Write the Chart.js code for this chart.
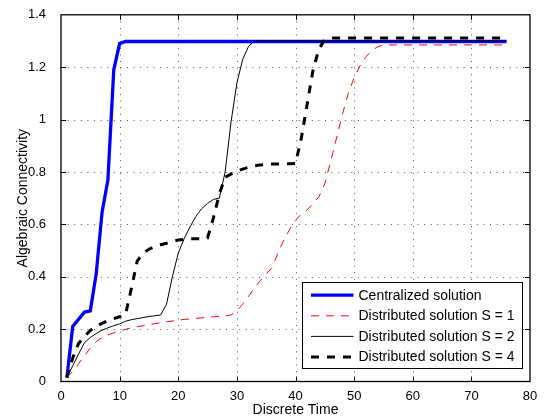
<!DOCTYPE html>
<html><head><meta charset="utf-8">
<script src="https://cdn.jsdelivr.net/npm/chart.js@4"></script>
<style>html,body{margin:0;padding:0;background:#fff}canvas{display:block}</style>
</head><body>
<canvas id="c" width="546" height="419"></canvas>
<script>
const time = [1,2,3,4,5,6,7,8,9,10,11,12,13,14,15,16,17,18,19,20,21,22,23,24,25,26,27,28,29,30,31,32,33,34,35,36,37,38,39,40,41,42,43,44,45,46,47,48,49,50,51,52,53,54,55,56,57,58,59,60,61,62,63,64,65,66,67,68,69,70,71,72,73,74,75,76];
const centralized = [0.015,0.21,0.238,0.265,0.27,0.41,0.645,0.77,1.19,1.29,
  1.298,1.298,1.298,1.298,1.298,1.298,1.298,1.298,1.298,1.298,
  1.298,1.298,1.298,1.298,1.298,1.298,1.298,1.298,1.298,1.298,
  1.298,1.298,1.298,1.298,1.298,1.298,1.298,1.298,1.298,1.298,
  1.298,1.298,1.298,1.298,1.298,1.298,1.298,1.298,1.298,1.298,
  1.298,1.298,1.298,1.298,1.298,1.298,1.298,1.298,1.298,1.298,
  1.298,1.298,1.298,1.298,1.298,1.298,1.298,1.298,1.298,1.298,
  1.298,1.298,1.298,1.298,1.298,1.298];
const distS1 = [0.015,0.04,0.068,0.098,0.128,0.152,0.168,0.178,0.186,0.193,
  0.199,0.205,0.209,0.213,0.217,0.221,0.224,0.228,0.231,0.234,
  0.237,0.239,0.241,0.243,0.245,0.247,0.249,0.251,0.254,0.27,
  0.295,0.325,0.358,0.385,0.41,0.435,0.49,0.54,0.58,0.615,
  0.64,0.655,0.68,0.705,0.755,0.84,0.93,1.02,1.10,1.16,
  1.205,1.24,1.262,1.278,1.285,1.285,1.285,1.285,1.285,1.285,
  1.285,1.285,1.285,1.285,1.285,1.285,1.285,1.285,1.285,1.285,
  1.285,1.285,1.285,1.285,1.285,1.285];
const distS2 = [0.015,0.06,0.105,0.148,0.168,0.183,0.196,0.205,0.213,0.22,
  0.23,0.236,0.24,0.244,0.248,0.251,0.254,0.295,0.40,0.49,
  0.545,0.59,0.63,0.66,0.68,0.695,0.70,0.80,0.99,1.14,
  1.23,1.28,1.30,1.30,1.30,1.30,1.30,1.30,1.30,1.30,
  1.30,1.30,1.30,1.30,1.30,1.30,1.30,1.30,1.30,1.30,
  1.30,1.30,1.30,1.30,1.30,1.30,1.30,1.30,1.30,1.30,
  1.30,1.30,1.30,1.30,1.30,1.30,1.30,1.30,1.30,1.30,
  1.30,1.30,1.30,1.30,1.30,1.30];
const distS4 = [0.015,0.09,0.145,0.172,0.195,0.21,0.222,0.232,0.24,0.247,
  0.255,0.355,0.46,0.49,0.505,0.515,0.522,0.528,0.535,0.54,
  0.543,0.545,0.545,0.545,0.548,0.625,0.715,0.78,0.792,0.803,
  0.811,0.818,0.823,0.827,0.829,0.83,0.83,0.831,0.831,0.832,
  0.93,1.06,1.19,1.27,1.305,1.311,1.311,1.311,1.311,1.311,
  1.311,1.311,1.311,1.311,1.311,1.311,1.311,1.311,1.311,1.311,
  1.311,1.311,1.311,1.311,1.311,1.311,1.311,1.311,1.311,1.311,
  1.311,1.311,1.311,1.311,1.311,1.311];
const xTicks = [0,10,20,30,40,50,60,70,80];
const xTickLabels = ['0','10','20','30','40','50','60','70','80'];
const yTicks = [0,0.2,0.4,0.6,0.8,1,1.2,1.4];
const yTickLabels = ['0','0.2','0.4','0.6','0.8','1','1.2','1.4'];
const seriesNames = ['Centralized solution','Distributed solution S = 1','Distributed solution S = 2','Distributed solution S = 4'];
const xTitle = 'Discrete Time';
const yTitle = 'Algebraic Connectivity';

const FONT = '"Liberation Sans", Arial, Helvetica, sans-serif';
const toPts = arr => arr.map((v,i)=>({x:time[i], y:v}));

const styles = [
  {color:'#0000ff', width:3.3, dash:[]},
  {color:'#ff0000', width:1, dash:[8,7]},
  {color:'#000000', width:1, dash:[]},
  {color:'#000000', width:3, dash:[8,8]}
];
const seriesData = [centralized, distS1, distS2, distS4];

const frame = {
  id:'frame',
  beforeDatasetsDraw(chart){
    const {ctx, chartArea:a, scales:{x,y}} = chart;
    ctx.save();
    ctx.strokeStyle='#555'; ctx.lineWidth=1; ctx.setLineDash([1,5.6]);
    xTicks.forEach(v=>{ if(v<=x.min||v>=x.max) return;
      const px=Math.round(x.getPixelForValue(v))+0.5;
      ctx.beginPath(); ctx.moveTo(px,a.top); ctx.lineTo(px,a.bottom); ctx.stroke(); });
    yTicks.forEach(v=>{ if(v<=y.min||v>=y.max) return;
      const py=Math.round(y.getPixelForValue(v))+0.5;
      ctx.beginPath(); ctx.moveTo(a.left,py); ctx.lineTo(a.right,py); ctx.stroke(); });
    ctx.restore();
  },
  afterDatasetsDraw(chart){
    const {ctx, chartArea:a, scales:{x,y}} = chart;
    ctx.save();
    ctx.strokeStyle='#000'; ctx.lineWidth=1.3; ctx.setLineDash([]);
    ctx.strokeRect(a.left, a.top, a.right-a.left, a.bottom-a.top);
    ctx.lineWidth=1;
    const tl=5;
    xTicks.forEach(v=>{ if(v<=x.min||v>=x.max) return;
      const px=Math.round(x.getPixelForValue(v))+0.5;
      ctx.beginPath(); ctx.moveTo(px,a.bottom); ctx.lineTo(px,a.bottom-tl);
      ctx.moveTo(px,a.top); ctx.lineTo(px,a.top+tl); ctx.stroke(); });
    yTicks.forEach(v=>{ if(v<=y.min||v>=y.max) return;
      const py=Math.round(y.getPixelForValue(v))+0.5;
      ctx.beginPath(); ctx.moveTo(a.left,py); ctx.lineTo(a.left+tl,py);
      ctx.moveTo(a.right,py); ctx.lineTo(a.right-tl,py); ctx.stroke(); });
    // legend
    const w=220, h=86;
    const lx=Math.round(a.right-8.5-w)+0.5, ly=Math.round(a.bottom-13.5-h)+0.5;
    ctx.fillStyle='#fff'; ctx.fillRect(lx,ly,w,h);
    ctx.strokeStyle='#000'; ctx.lineWidth=1; ctx.strokeRect(lx,ly,w,h);
    ctx.font='14px '+FONT; ctx.textBaseline='middle'; ctx.textAlign='left';
    seriesNames.forEach((name,i)=>{
      const ry=ly+12.7+i*20.6;
      const s=styles[i];
      ctx.strokeStyle=s.color; ctx.lineWidth=s.width; ctx.setLineDash(s.dash);
      ctx.beginPath(); ctx.moveTo(lx+8.5,ry); ctx.lineTo(lx+51,ry); ctx.stroke();
      ctx.setLineDash([]);
      ctx.fillStyle='#000'; ctx.fillText(name, lx+56, ry+0.5);
    });
    ctx.restore();
  }
};

new Chart(document.getElementById('c'), {
  type:'line',
  data:{ datasets: seriesData.map((d,i)=>({
    label:seriesNames[i], data:toPts(d), borderColor:styles[i].color, backgroundColor:styles[i].color,
    borderWidth:styles[i].width, borderDash:styles[i].dash, pointRadius:0, tension:0, fill:false,
    order:4-i
  }))},
  options:{
    responsive:false, animation:false, devicePixelRatio:1,
    layout:{padding:{top:12,right:16,left:0,bottom:0}},
    plugins:{legend:{display:false}, tooltip:{enabled:false}},
    scales:{
      x:{type:'linear', min:0, max:80,
        afterBuildTicks:s=>{ s.ticks = xTicks.map(v=>({value:v})); },
        afterFit:s=>{ s.height = 37.5; },
        ticks:{ callback:(v,i)=>xTickLabels[i], color:'#000', font:{family:FONT,size:13}, padding:-1, maxRotation:0, autoSkip:false },
        grid:{display:false}, border:{display:false},
        title:{display:true, text:xTitle, color:'#000', font:{family:FONT,size:14}, padding:{top:0,bottom:0}}
      },
      y:{type:'linear', min:0, max:1.4,
        afterBuildTicks:s=>{ s.ticks = yTicks.map(v=>({value:v})); },
        afterFit:s=>{ s.width = 61; },
        ticks:{ callback:(v,i)=>yTickLabels[i], color:'#000', font:{family:FONT,size:13}, padding:7, autoSkip:false },
        grid:{display:false}, border:{display:false},
        title:{display:true, text:yTitle, color:'#000', font:{family:FONT,size:14}, padding:{top:14.6,bottom:0}}
      }
    }
  },
  plugins:[frame]
});
</script>
</body></html>
